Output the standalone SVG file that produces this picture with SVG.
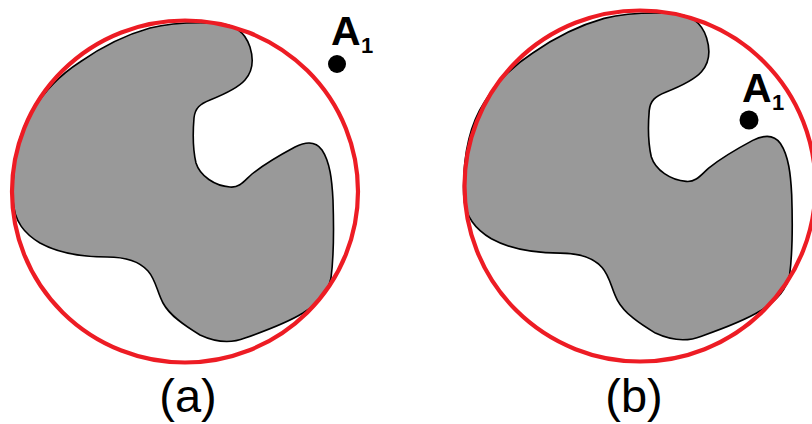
<svg xmlns="http://www.w3.org/2000/svg" xmlns:xlink="http://www.w3.org/1999/xlink" width="812" height="424" viewBox="0 0 812 424">
<style>
.blob{fill:#999999;stroke:#000000;stroke-width:1.6;stroke-linejoin:round}
.ring{fill:none;stroke:#ED1C24;stroke-width:4.2}
.pt{fill:#000000}
.lblA{font-family:"Liberation Sans",Arial,sans-serif;font-weight:bold;font-size:41px;fill:#000}
.sub{font-family:"Liberation Sans",Arial,sans-serif;font-weight:bold;font-size:22px;fill:#000}
.cap{font-family:"Liberation Sans",Arial,sans-serif;font-size:47px;fill:#000;text-anchor:middle}
</style>
<defs>
<path id="blob" d="M 13,200 C 12,160 20,130 33,110 C 45,90 60,75 80,62 C 100,48 125,35 150,28 C 170,23 190,22 215,23 C 235,24 245,32 250,47 C 254,60 252,72 245,80 C 238,88 225,94 210,100 C 200,104 195,108 194,118 C 193,130 193,150 196,163 C 200,176 215,186 230,187 C 240,188 245,180 252,174 C 262,166 280,155 295,147 C 305,142 315,140 322,150 C 330,162 332,180 333,200 C 334,230 334,255 331,278 C 328,292 320,302 303,313 C 290,321 265,331 245,338 C 230,344 215,342 200,335 C 185,326 170,316 163,303 C 157,292 156,280 148,271 C 140,262 125,257 107,257 C 85,257 60,254 40,243 C 25,234 14,222 13,200 Z"/>
</defs>
<rect width="812" height="424" fill="#ffffff"/>
<g id="panel-a">
<use xlink:href="#blob" href="#blob" class="blob"/>
<ellipse class="ring" cx="185" cy="191.5" rx="173" ry="171"/>
<circle class="pt" cx="337" cy="64" r="9"/>
<text class="lblA" x="331" y="45">A</text>
<text class="sub" x="361" y="53">1</text>
<text class="cap" x="188" y="412">(a)</text>
</g>
<g id="panel-b">
<use xlink:href="#blob" href="#blob" class="blob" transform="translate(640,186) scale(1.025) translate(-185,-191.5)"/>
<circle class="ring" cx="640" cy="186" r="175.5"/>
<circle class="pt" cx="749" cy="120" r="9.5"/>
<text class="lblA" x="742" y="102">A</text>
<text class="sub" x="772" y="110">1</text>
<text class="cap" x="634" y="412">(b)</text>
</g>
<g id="connectors"/>
</svg>
